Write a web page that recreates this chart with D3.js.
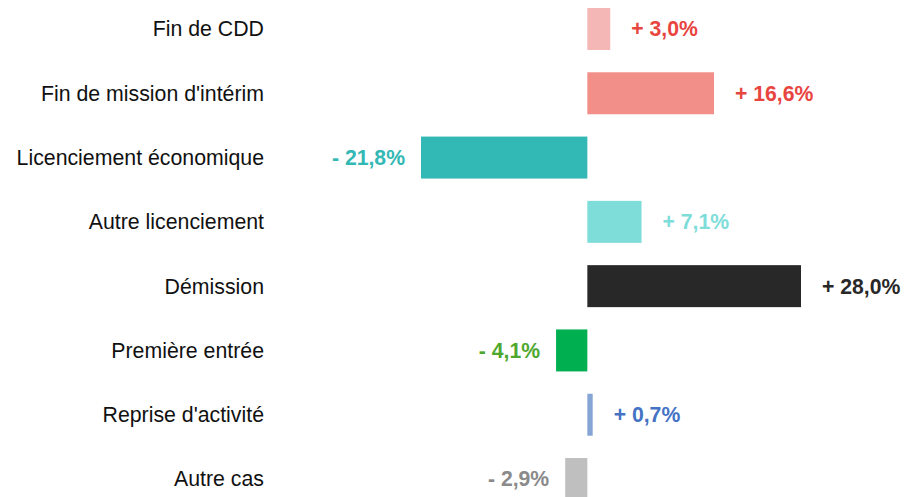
<!DOCTYPE html>
<html>
<head>
<meta charset="utf-8">
<script src="https://cdn.jsdelivr.net/npm/d3@7"></script>
<style>
  html, body { margin: 0; padding: 0; background: #ffffff; }
  svg { display: block; }
  text { font-family: 'Liberation Sans', Arial, Helvetica, sans-serif; }
</style>
</head>
<body>
<svg id="chart" width="914" height="497"></svg>
<script>
const categories = [
  "Fin de CDD",
  "Fin de mission d'intérim",
  "Licenciement économique",
  "Autre licenciement",
  "Démission",
  "Première entrée",
  "Reprise d'activité",
  "Autre cas"
];
const values = [3.0, 16.6, -21.8, 7.1, 28.0, -4.1, 0.7, -2.9];
const valueLabels = ["+ 3,0%", "+ 16,6%", "- 21,8%", "+ 7,1%", "+ 28,0%", "- 4,1%", "+ 0,7%", "- 2,9%"];
const barColors = ["#F5B7B5", "#F28F89", "#32B8B5", "#7EDDD9", "#282828", "#00B050", "#86A5D6", "#BFBFBF"];
const labelColors = ["#E8453F", "#E8453F", "#32B8B5", "#7EDDD9", "#282828", "#4EA82E", "#4472C4", "#8A8A8A"];

const svg = d3.select("#chart");

const x = d3.scaleLinear().domain([-21.8, 28]).range([421, 801]);
const y = d3.scaleBand().domain(categories).range([8, 500]).paddingInner(0.347).paddingOuter(0);

const data = categories.map((c, i) => ({ c, v: values[i], label: valueLabels[i], bar: barColors[i], lc: labelColors[i] }));

svg.selectAll("rect.bar").data(data).enter().append("rect")
  .attr("class", "bar")
  .attr("x", d => Math.min(x(0), x(d.v)))
  .attr("width", d => Math.abs(x(d.v) - x(0)))
  .attr("y", d => y(d.c))
  .attr("height", y.bandwidth())
  .attr("fill", d => d.bar);

svg.selectAll("text.cat").data(data).enter().append("text")
  .attr("class", "cat")
  .attr("x", 264)
  .attr("y", d => y(d.c) + y.bandwidth() / 2)
  .attr("dy", "0.35em")
  .attr("text-anchor", "end")
  .attr("font-size", 21.3)
  .attr("fill", "#111111")
  .text(d => d.c);

svg.selectAll("text.val").data(data).enter().append("text")
  .attr("class", "val")
  .attr("x", d => d.v >= 0 ? x(d.v) + 21 : x(d.v) - 16)
  .attr("y", d => y(d.c) + y.bandwidth() / 2)
  .attr("dy", "0.35em")
  .attr("text-anchor", d => d.v >= 0 ? "start" : "end")
  .attr("font-weight", "bold")
  .attr("font-size", 21.2)
  .attr("fill", d => d.lc)
  .text(d => d.label);
</script>
</body>
</html>
